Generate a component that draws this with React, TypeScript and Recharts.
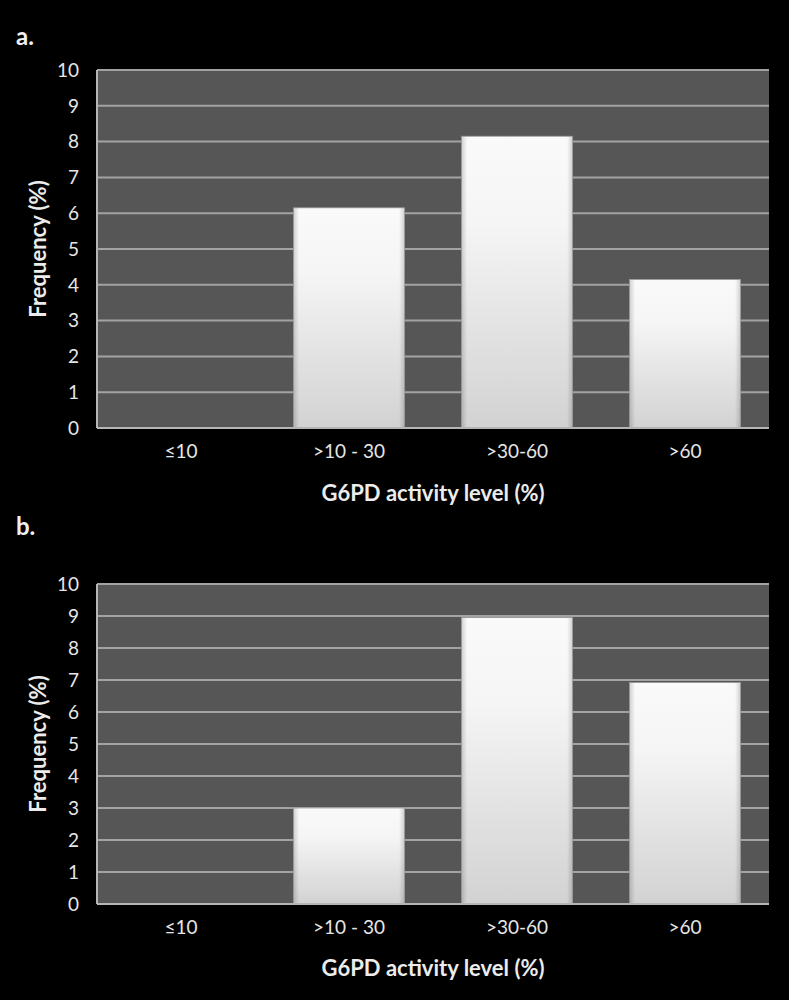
import React from 'react';
import { BarChart, Bar, XAxis, YAxis, CartesianGrid } from 'recharts';

const categories = ['≤10', '>10 - 30', '>30-60', '>60'];
const valuesA = [0, 6.15, 8.15, 4.15];
const valuesB = [0, 3.0, 8.95, 6.92];
const yTicks = [0, 1, 2, 3, 4, 5, 6, 7, 8, 9, 10];

const dataA = categories.map((c, i) => ({ cat: c, v: valuesA[i] }));
const dataB = categories.map((c, i) => ({ cat: c, v: valuesB[i] }));

const FONT = 'Lato, "Open Sans", sans-serif';

const BevelBar = (props: any) => {
  const { x, y, width, height, gid } = props;
  if (!height || height <= 0) return null;
  return (
    <g>
      <rect x={x} y={y} width={width} height={height} fill={`url(#v${gid})`} />
      <rect x={x} y={y} width={width} height={height} fill={`url(#h${gid})`} />
      <rect x={x} y={y} width={width} height={height} fill="none" stroke="#9a9a9a" strokeWidth={0.8} />
    </g>
  );
};

function Panel({ data, gid, height, marginTop, xAxisHeight, titleOffset }: any) {
  return (
    <BarChart
      width={789}
      height={height}
      data={data}
      margin={{ top: marginTop, right: 20, left: 0, bottom: 0 }}
      barCategoryGap="17%"
    >
      <defs>
        <linearGradient id={`v${gid}`} x1="0" y1="0" x2="0" y2="1">
          <stop offset="0%" stopColor="#ffffff" />
          <stop offset="30%" stopColor="#fafafa" />
          <stop offset="100%" stopColor="#d6d6d6" />
        </linearGradient>
        <linearGradient id={`h${gid}`} x1="0" y1="0" x2="1" y2="0">
          <stop offset="0%" stopColor="#000" stopOpacity={0.18} />
          <stop offset="5%" stopColor="#000" stopOpacity={0.02} />
          <stop offset="95%" stopColor="#000" stopOpacity={0.02} />
          <stop offset="100%" stopColor="#000" stopOpacity={0.18} />
        </linearGradient>
      </defs>
      <CartesianGrid
        vertical={false}
        fill="#565656"
        fillOpacity={1}
        stroke="#a3a3a3"
        strokeWidth={2}
      />
      <XAxis
        dataKey="cat"
        height={xAxisHeight}
        tickSize={0}
        tickMargin={17}
        axisLine={{ stroke: '#b5b5b5', strokeWidth: 2 }}
        tick={{ fill: '#e6e6e6', fontSize: 19, fontFamily: FONT }}
        label={{
          value: 'G6PD activity level (%)',
          position: 'insideBottom',
          offset: titleOffset,
          fill: '#ececec',
          fontSize: 22,
          fontWeight: 'bold',
          fontFamily: FONT,
        }}
      />
      <YAxis
        width={97}
        domain={[0, 10]}
        ticks={yTicks}
        interval={0}
        tickSize={0}
        tickMargin={18}
        axisLine={{ stroke: '#b5b5b5', strokeWidth: 2 }}
        tick={{ fill: '#e6e6e6', fontSize: 19, fontFamily: FONT }}
        label={{
          value: 'Frequency (%)',
          angle: -90,
          position: 'insideLeft',
          offset: 38,
          fill: '#ececec',
          fontSize: 22,
          fontWeight: 'bold',
          fontFamily: FONT,
          style: { textAnchor: 'middle' },
        }}
      />
      <Bar dataKey="v" isAnimationActive={false} shape={(p: any) => <BevelBar {...p} gid={gid} />} />
    </BarChart>
  );
}

export default function App() {
  return (
    <div
      style={{
        position: 'absolute',
        left: 0,
        top: 0,
        width: 789,
        height: 1000,
        background: '#000',
        overflow: 'hidden',
        fontFamily: FONT,
      }}
    >
      <div style={{ position: 'absolute', left: 16, top: 21, color: '#f0f0f0', fontSize: 24, fontWeight: 'bold' }}>
        a.
      </div>
      <div style={{ position: 'absolute', left: 16, top: 511, color: '#f0f0f0', fontSize: 24, fontWeight: 'bold' }}>
        b.
      </div>
      <div style={{ position: 'absolute', left: 0, top: 0 }}>
        <Panel data={dataA} gid="a" height={508} marginTop={70} xAxisHeight={80} titleOffset={7} />
      </div>
      <div style={{ position: 'absolute', left: 0, top: 496 }}>
        <Panel data={dataB} gid="b" height={504} marginTop={88} xAxisHeight={96} titleOffset={24} />
      </div>
    </div>
  );
}
